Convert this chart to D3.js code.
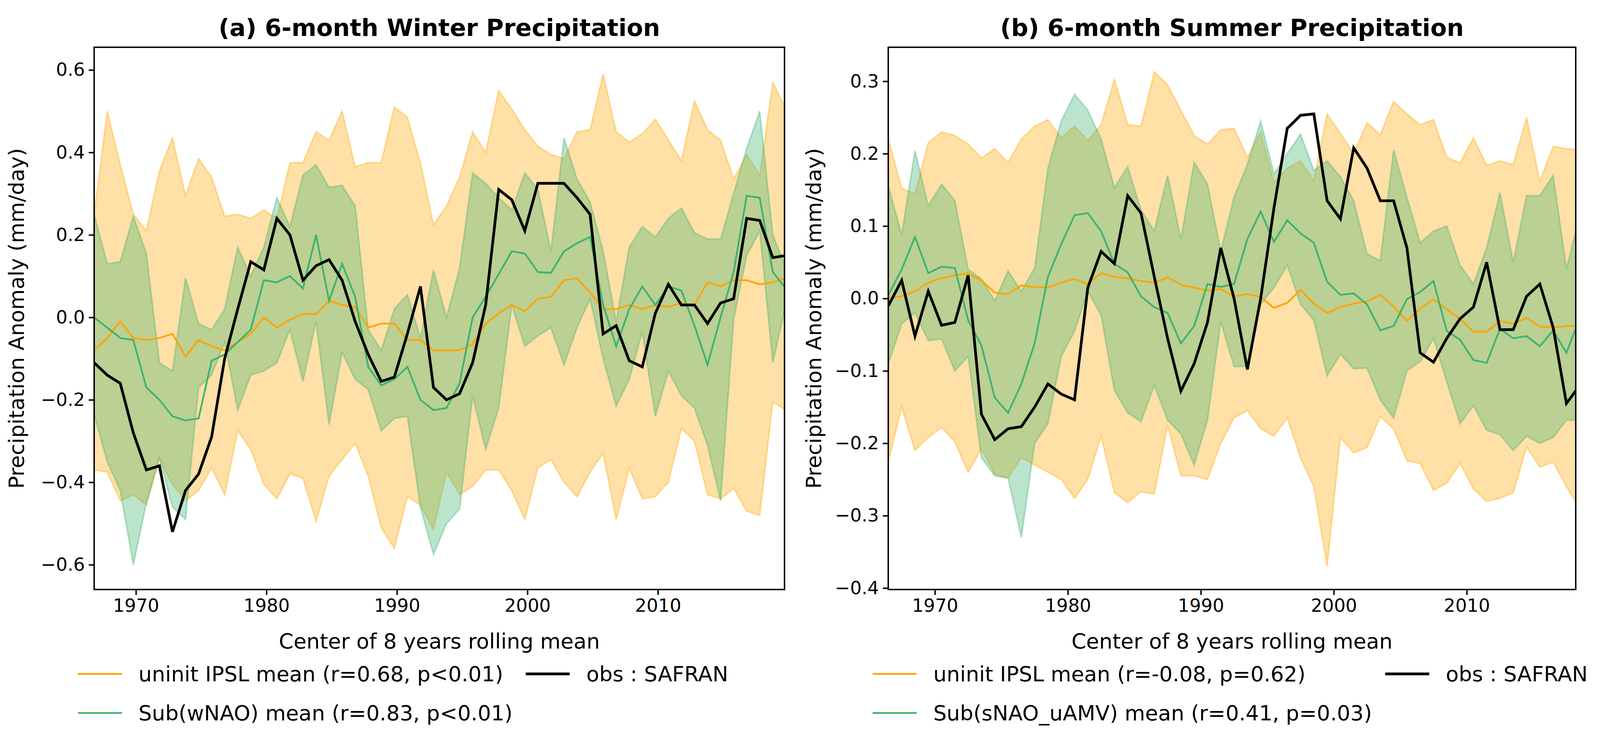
<!DOCTYPE html>
<html><head><meta charset="utf-8">
<script src="https://cdn.jsdelivr.net/npm/d3@7"></script>
<style>html,body{margin:0;padding:0;background:#fff;overflow:hidden}svg{display:block}text{font-family:"DejaVu Sans",sans-serif}</style>
</head><body><svg id="c"></svg>
<script>
// ---- Panel (a) Winter: x = 1966.8 + i
const winterStart = 1966.8;
const winterObs = [-0.11,-0.14,-0.16,-0.28,-0.37,-0.36,-0.52,-0.42,-0.38,-0.29,-0.1,0.02,0.135,0.115,0.24,0.2,0.09,0.125,0.14,0.09,-0.01,-0.09,-0.155,-0.145,-0.04,0.075,-0.17,-0.2,-0.185,-0.11,0.03,0.31,0.285,0.21,0.325,0.325,0.325,0.29,0.25,-0.04,-0.02,-0.105,-0.12,0.01,0.08,0.03,0.03,-0.015,0.035,0.045,0.24,0.235,0.145,0.15];
const winterUninit = [-0.08,-0.05,-0.01,-0.05,-0.055,-0.05,-0.04,-0.095,-0.055,-0.07,-0.08,-0.06,-0.04,0.0,-0.025,-0.005,0.008,0.008,0.04,0.03,0.025,-0.025,-0.015,-0.015,-0.055,-0.055,-0.08,-0.08,-0.08,-0.065,-0.015,0.01,0.03,0.015,0.045,0.05,0.09,0.095,0.06,0.02,0.02,0.03,0.02,0.03,0.025,0.035,0.03,0.085,0.075,0.09,0.09,0.08,0.085,0.095];
const winterUninitHi = [0.25,0.5,0.37,0.25,0.21,0.355,0.435,0.295,0.385,0.34,0.245,0.25,0.24,0.26,0.24,0.375,0.375,0.45,0.43,0.5,0.365,0.375,0.375,0.51,0.485,0.375,0.225,0.27,0.34,0.45,0.4,0.55,0.505,0.455,0.415,0.395,0.385,0.45,0.455,0.59,0.45,0.425,0.445,0.48,0.43,0.38,0.525,0.455,0.43,0.335,0.395,0.345,0.57,0.505];
const winterUninitLo = [-0.37,-0.375,-0.445,-0.43,-0.455,-0.345,-0.405,-0.445,-0.42,-0.365,-0.43,-0.275,-0.32,-0.405,-0.44,-0.38,-0.39,-0.495,-0.385,-0.345,-0.305,-0.385,-0.51,-0.56,-0.435,-0.455,-0.515,-0.375,-0.43,-0.41,-0.37,-0.37,-0.42,-0.49,-0.365,-0.345,-0.4,-0.435,-0.375,-0.33,-0.49,-0.365,-0.44,-0.435,-0.4,-0.27,-0.3,-0.43,-0.44,-0.415,-0.47,-0.48,-0.205,-0.225];
const winterSub = [0.0,-0.025,-0.05,-0.055,-0.17,-0.2,-0.24,-0.25,-0.245,-0.105,-0.09,-0.06,-0.03,0.09,0.085,0.1,0.07,0.2,0.04,0.13,0.05,-0.12,-0.165,-0.15,-0.12,-0.2,-0.225,-0.22,-0.16,0.0,0.05,0.105,0.16,0.155,0.11,0.108,0.16,0.18,0.195,0.03,-0.07,0.02,0.075,0.03,0.075,0.065,-0.02,-0.115,0.0,0.11,0.295,0.29,0.11,0.07];
const winterSubHi = [0.25,0.13,0.135,0.245,0.155,-0.11,-0.13,0.095,-0.015,-0.03,0.02,0.17,0.1,0.17,0.29,0.22,0.345,0.37,0.315,0.32,0.27,-0.03,-0.08,0.02,0.055,-0.05,0.115,0.0,0.12,0.35,0.325,0.29,0.26,0.35,0.31,0.16,0.435,0.335,0.28,0.16,-0.01,0.17,0.22,0.195,0.24,0.265,0.205,0.19,0.19,0.3,0.41,0.5,0.2,0.12];
const winterSubLo = [-0.235,-0.35,-0.42,-0.6,-0.45,-0.34,-0.46,-0.49,-0.17,-0.14,-0.06,-0.225,-0.14,-0.13,-0.11,-0.03,-0.155,-0.01,-0.26,-0.085,-0.15,-0.175,-0.275,-0.245,-0.24,-0.46,-0.575,-0.5,-0.465,-0.19,-0.32,-0.22,0.03,-0.07,-0.045,-0.025,-0.115,-0.025,0.045,-0.1,-0.215,-0.15,-0.035,-0.24,-0.13,-0.19,-0.22,-0.31,-0.445,-0.005,0.15,0.21,-0.11,0.03];
// ---- Panel (b) Summer: x = 1966.5 + i
const summerStart = 1966.5;
const summerObs = [-0.01,0.025,-0.052,0.01,-0.037,-0.033,0.032,-0.16,-0.195,-0.18,-0.177,-0.15,-0.118,-0.132,-0.14,0.015,0.065,0.048,0.142,0.118,0.03,-0.055,-0.128,-0.09,-0.033,0.07,0.0,-0.098,0.0,0.125,0.235,0.253,0.255,0.135,0.11,0.208,0.18,0.135,0.135,0.07,-0.075,-0.088,-0.055,-0.028,-0.012,0.05,-0.043,-0.043,0.003,0.02,-0.04,-0.145,-0.12];
const summerUninit = [0,0.003,0.01,0.022,0.028,0.032,0.035,0.025,0.008,0.006,0.018,0.016,0.015,0.022,0.027,0.02,0.035,0.03,0.028,0.024,0.022,0.029,0.019,0.015,0.011,0.013,0.003,0.006,0.002,-0.013,-0.006,0.012,-0.007,-0.02,-0.012,-0.007,-0.004,0.005,-0.011,-0.031,-0.014,-0.001,-0.015,-0.028,-0.046,-0.046,-0.031,-0.035,-0.027,-0.039,-0.04,-0.038,-0.038];
const summerUninitHi = [0.22,0.152,0.145,0.215,0.23,0.225,0.213,0.194,0.207,0.188,0.22,0.238,0.247,0.222,0.238,0.218,0.24,0.303,0.24,0.238,0.313,0.295,0.26,0.225,0.213,0.233,0.235,0.195,0.23,0.16,0.18,0.19,0.163,0.255,0.228,0.2,0.243,0.226,0.272,0.255,0.24,0.247,0.195,0.187,0.222,0.184,0.19,0.185,0.25,0.162,0.21,0.207,0.205];
const summerUninitLo = [-0.225,-0.15,-0.21,-0.192,-0.178,-0.198,-0.24,-0.208,-0.243,-0.248,-0.22,-0.23,-0.24,-0.25,-0.276,-0.25,-0.19,-0.268,-0.282,-0.267,-0.27,-0.175,-0.245,-0.245,-0.25,-0.2,-0.165,-0.155,-0.18,-0.19,-0.165,-0.22,-0.26,-0.37,-0.192,-0.213,-0.206,-0.163,-0.18,-0.224,-0.228,-0.265,-0.255,-0.228,-0.263,-0.28,-0.276,-0.268,-0.205,-0.233,-0.226,-0.26,-0.29];
const summerSub = [0.005,0.04,0.085,0.035,0.044,0.042,-0.03,-0.065,-0.137,-0.158,-0.118,-0.062,0.03,0.075,0.115,0.118,0.093,0.048,0.036,0.003,-0.012,-0.02,-0.062,-0.038,0.02,0.016,0.02,0.082,0.12,0.078,0.108,0.09,0.077,0.023,0.005,0.007,-0.008,-0.044,-0.038,-0.001,0.009,0.024,-0.045,-0.057,-0.085,-0.089,-0.042,-0.055,-0.052,-0.066,-0.044,-0.075,-0.027];
const summerSubHi = [0.155,0.088,0.204,0.128,0.158,0.135,0.04,0.027,-0.003,0.038,0.01,0.042,0.18,0.245,0.282,0.26,0.22,0.153,0.182,0.122,0.093,0.17,0.082,0.188,0.158,0.065,0.14,0.185,0.245,0.172,0.2,0.227,0.177,0.19,0.168,0.135,0.062,0.052,0.205,0.14,0.077,0.093,0.1,0.046,0.02,0.07,0.146,0.05,0.142,0.142,0.17,0.041,0.115];
const summerSubLo = [-0.09,-0.035,-0.02,-0.058,-0.056,-0.1,-0.08,-0.22,-0.245,-0.248,-0.33,-0.2,-0.173,-0.08,-0.045,0.01,-0.023,-0.127,-0.158,-0.17,-0.12,-0.168,-0.187,-0.23,-0.168,-0.032,-0.094,-0.094,-0.008,0.015,0.046,-0.008,-0.03,-0.107,-0.077,-0.097,-0.096,-0.14,-0.165,-0.1,-0.087,-0.055,-0.115,-0.173,-0.148,-0.182,-0.188,-0.21,-0.19,-0.2,-0.192,-0.168,-0.168];
const xTicks = [1970,1980,1990,2000,2010];
const winterYTicks = [-0.6,-0.4,-0.2,0.0,0.2,0.4,0.6];
const summerYTicks = [-0.4,-0.3,-0.2,-0.1,0.0,0.1,0.2,0.3];

const ORANGE="#ffa500", GREEN="#3cb371";
const W=window.innerWidth, H=window.innerHeight;
const sx=W/5013, sy=H/1907, sf=Math.min(sx,sy*1.05);
const X=v=>v*sx, Y=v=>v*sy, F=v=>v*sf;
const svg=d3.select("#c").attr("width",W).attr("height",H);
const fmt=d=>d3.format(".1f")(d).replace("-","\u2212");

function panel(o){
  const g=svg.append("g");
  const x0=X(o.x0),x1=X(o.x1),y0=Y(o.y0),y1=Y(o.y1);
  const x=d3.scaleLinear().domain(o.xd).range([x0,x1]);
  const y=d3.scaleLinear().domain(o.yd).range([y1,y0]);
  const xs=i=>x(o.start+i);
  const clip="clip"+o.id;
  g.append("clipPath").attr("id",clip).append("rect").attr("x",x0).attr("y",y0).attr("width",x1-x0).attr("height",y1-y0);
  const pg=g.append("g").attr("clip-path",`url(#${clip})`);
  const band=(lo,hi,c)=>{
    const a=d3.area().x((d,i)=>xs(i)).y0((d,i)=>y(lo[i])).y1(d=>y(d));
    pg.append("path").attr("d",a(hi)).attr("fill",c).attr("fill-opacity",0.35).attr("stroke",c).attr("stroke-opacity",0.35).attr("stroke-width",F(5));
  };
  band(o.ulo,o.uhi,ORANGE);
  band(o.slo,o.shi,GREEN);
  const ln=d3.line().x((d,i)=>xs(i)).y(d=>y(d));
  pg.append("path").attr("d",ln(o.u)).attr("fill","none").attr("stroke",ORANGE).attr("stroke-width",F(5.5));
  pg.append("path").attr("d",ln(o.s)).attr("fill","none").attr("stroke",GREEN).attr("stroke-width",F(5.5));
  pg.append("path").attr("d",ln(o.obs)).attr("fill","none").attr("stroke","#000").attr("stroke-width",F(8.5));
  const ax=g.append("g").attr("transform",`translate(0,${y1})`).call(d3.axisBottom(x).tickValues(xTicks).tickFormat(d3.format("d")).tickSize(F(17)).tickPadding(F(12)));
  const ay=g.append("g").attr("transform",`translate(${x0},0)`).call(d3.axisLeft(y).tickValues(o.yt).tickFormat(fmt).tickSize(F(17)).tickPadding(F(12)));
  [ax,ay].forEach(a=>{a.select(".domain").remove();a.selectAll("line").attr("stroke-width",F(4.5));a.selectAll("text").attr("font-size",F(57)).attr("font-family","DejaVu Sans").attr("fill","#000");});
  g.append("rect").attr("x",x0).attr("y",y0).attr("width",x1-x0).attr("height",y1-y0).attr("fill","none").attr("stroke","#000").attr("stroke-width",F(4.5));
  g.append("text").attr("x",(x0+x1)/2).attr("y",Y(92)).attr("text-anchor","middle").attr("font-size",F(75)).attr("font-weight","bold").text(o.title);
  g.append("text").attr("x",(x0+x1)/2).attr("y",Y(1660)).attr("text-anchor","middle").attr("font-size",F(66)).text("Center of 8 years rolling mean");
  g.append("text").attr("transform",`translate(${X(o.ylx)},${(y0+y1)/2}) rotate(-90)`).attr("text-anchor","middle").attr("font-size",F(66)).text("Precipitation Anomaly (mm/day)");
  const leg=[[o.l1x,1725,ORANGE,5.5,o.lab1],[o.l1x,1825,GREEN,5.5,o.lab2],[o.l2x,1725,"#000",8.5,"obs : SAFRAN"]];
  leg.forEach(([lx,ly,c,w,t])=>{
    g.append("line").attr("x1",X(lx)).attr("x2",X(lx+138)).attr("y1",Y(ly)).attr("y2",Y(ly)).attr("stroke",c).attr("stroke-width",F(w));
    g.append("text").attr("x",X(lx+190)).attr("y",Y(ly)+F(23)).attr("font-size",F(66)).text(t);
  });
}
panel({id:"a",start:winterStart,xd:[1966.8,2019.7],yd:[-0.66,0.655],x0:295,x1:2458,y0:121,y1:1509,yt:winterYTicks,
  obs:winterObs,u:winterUninit,uhi:winterUninitHi,ulo:winterUninitLo,s:winterSub,shi:winterSubHi,slo:winterSubLo,
  title:"(a) 6-month Winter Precipitation",ylx:75,l1x:244,l2x:1647,
  lab1:"uninit IPSL mean (r=0.68, p<0.01)",lab2:"Sub(wNAO) mean (r=0.83, p<0.01)"});
panel({id:"b",start:summerStart,xd:[1966.49,2018.2],yd:[-0.402,0.347],x0:2783,x1:4937,y0:121,y1:1509,yt:summerYTicks,
  obs:summerObs,u:summerUninit,uhi:summerUninitHi,ulo:summerUninitLo,s:summerSub,shi:summerSubHi,slo:summerSubLo,
  title:"(b) 6-month Summer Precipitation",ylx:2572,l1x:2734,l2x:4340,
  lab1:"uninit IPSL mean (r=-0.08, p=0.62)",lab2:"Sub(sNAO_uAMV) mean (r=0.41, p=0.03)"});
</script></body></html>
